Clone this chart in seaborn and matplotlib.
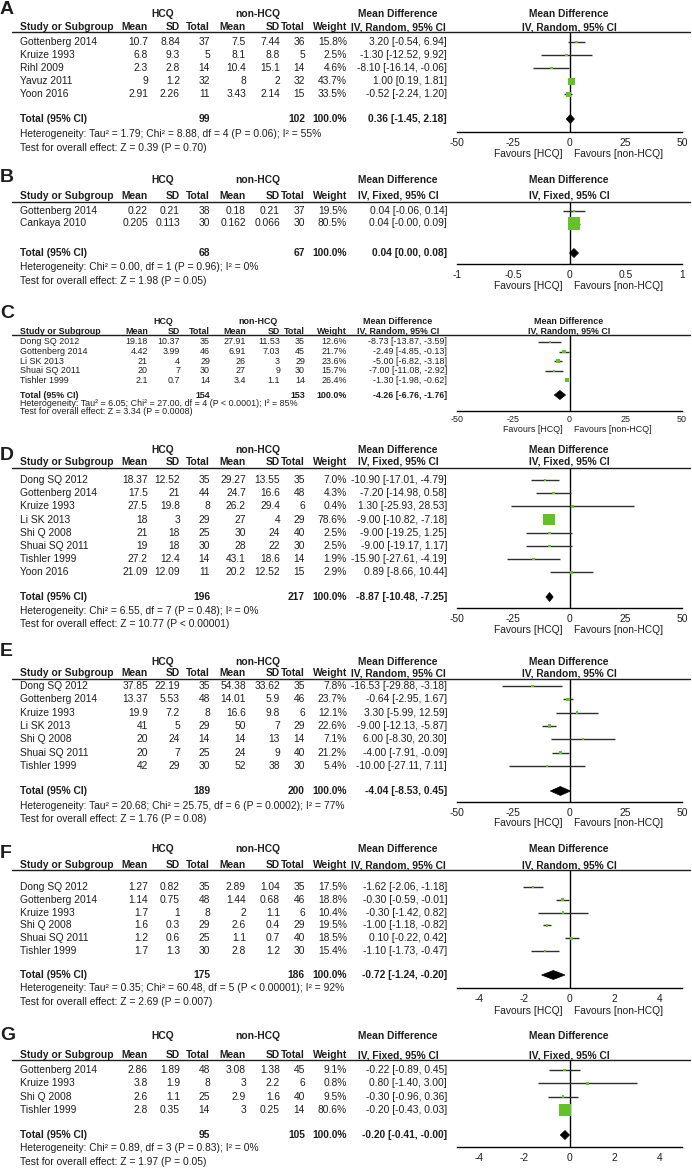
"""Forest plots (A-G): HCQ vs non-HCQ mean differences, redrawn with seaborn."""
import matplotlib.pyplot as plt
from matplotlib.lines import Line2D
import numpy as np
import pandas as pd
import seaborn as sns

# ---------------- data ----------------
# A
a_studies = ['Gottenberg 2014', 'Kruize 1993', 'Rihl 2009', 'Yavuz 2011', 'Yoon 2016']
a_hcq_mean = [10.7, 6.8, 2.3, 9, 2.91]
a_hcq_sd = [8.84, 9.3, 2.8, 1.2, 2.26]
a_hcq_n = [37, 5, 14, 32, 11]
a_ctl_mean = [7.5, 8.1, 10.4, 8, 3.43]
a_ctl_sd = [7.44, 8.8, 15.1, 2, 2.14]
a_ctl_n = [36, 5, 14, 32, 15]
a_weight = [15.8, 2.5, 4.6, 43.7, 33.5]
a_md = [3.20, -1.30, -8.10, 1.00, -0.52]
a_lo = [-0.54, -12.52, -16.14, 0.19, -2.24]
a_hi = [6.94, 9.92, -0.06, 1.81, 1.20]
a_total_n = [99, 102]
a_total_ci = [0.36, -1.45, 2.18]
a_het = 'Heterogeneity: Tau² = 1.79; Chi² = 8.88, df = 4 (P = 0.06); I² = 55%'
a_test = 'Test for overall effect: Z = 0.39 (P = 0.70)'
a_ticks = [-50, -25, 0, 25, 50]

# B
b_studies = ['Gottenberg 2014', 'Cankaya 2010']
b_hcq_mean = [0.22, 0.205]
b_hcq_sd = [0.21, 0.113]
b_hcq_n = [38, 30]
b_ctl_mean = [0.18, 0.162]
b_ctl_sd = [0.21, 0.066]
b_ctl_n = [37, 30]
b_weight = [19.5, 80.5]
b_md = [0.04, 0.04]
b_lo = [-0.06, -0.0]
b_hi = [0.14, 0.09]
b_total_n = [68, 67]
b_total_ci = [0.04, 0.00, 0.08]
b_het = 'Heterogeneity: Chi² = 0.00, df = 1 (P = 0.96); I² = 0%'
b_test = 'Test for overall effect: Z = 1.98 (P = 0.05)'
b_ticks = [-1, -0.5, 0, 0.5, 1]

# C
c_studies = ['Dong SQ 2012', 'Gottenberg 2014', 'Li SK 2013', 'Shuai SQ 2011', 'Tishler 1999']
c_hcq_mean = [19.18, 4.42, 21, 20, 2.1]
c_hcq_sd = [10.37, 3.99, 4, 7, 0.7]
c_hcq_n = [35, 46, 29, 30, 14]
c_ctl_mean = [27.91, 6.91, 26, 27, 3.4]
c_ctl_sd = [11.53, 7.03, 3, 9, 1.1]
c_ctl_n = [35, 45, 29, 30, 14]
c_weight = [12.6, 21.7, 23.6, 15.7, 26.4]
c_md = [-8.73, -2.49, -5.00, -7.00, -1.30]
c_lo = [-13.87, -4.85, -6.82, -11.08, -1.98]
c_hi = [-3.59, -0.13, -3.18, -2.92, -0.62]
c_total_n = [154, 153]
c_total_ci = [-4.26, -6.76, -1.76]
c_het = 'Heterogeneity: Tau² = 6.05; Chi² = 27.00, df = 4 (P < 0.0001); I² = 85%'
c_test = 'Test for overall effect: Z = 3.34 (P = 0.0008)'
c_ticks = [-50, -25, 0, 25, 50]

# D
d_studies = ['Dong SQ 2012', 'Gottenberg 2014', 'Kruize 1993', 'Li SK 2013',
             'Shi Q 2008', 'Shuai SQ 2011', 'Tishler 1999', 'Yoon 2016']
d_hcq_mean = [18.37, 17.5, 27.5, 18, 21, 19, 27.2, 21.09]
d_hcq_sd = [12.52, 21, 19.8, 3, 18, 18, 12.4, 12.09]
d_hcq_n = [35, 44, 8, 29, 25, 30, 14, 11]
d_ctl_mean = [29.27, 24.7, 26.2, 27, 30, 28, 43.1, 20.2]
d_ctl_sd = [13.55, 16.6, 29.4, 4, 24, 22, 18.6, 12.52]
d_ctl_n = [35, 48, 6, 29, 40, 30, 14, 15]
d_weight = [7.0, 4.3, 0.4, 78.6, 2.5, 2.5, 1.9, 2.9]
d_md = [-10.90, -7.20, 1.30, -9.00, -9.00, -9.00, -15.90, 0.89]
d_lo = [-17.01, -14.98, -25.93, -10.82, -19.25, -19.17, -27.61, -8.66]
d_hi = [-4.79, 0.58, 28.53, -7.18, 1.25, 1.17, -4.19, 10.44]
d_total_n = [196, 217]
d_total_ci = [-8.87, -10.48, -7.25]
d_het = 'Heterogeneity: Chi² = 6.55, df = 7 (P = 0.48); I² = 0%'
d_test = 'Test for overall effect: Z = 10.77 (P < 0.00001)'
d_ticks = [-50, -25, 0, 25, 50]

# E
e_studies = ['Dong SQ 2012', 'Gottenberg 2014', 'Kruize 1993', 'Li SK 2013',
             'Shi Q 2008', 'Shuai SQ 2011', 'Tishler 1999']
e_hcq_mean = [37.85, 13.37, 19.9, 41, 20, 20, 42]
e_hcq_sd = [22.19, 5.53, 7.2, 5, 24, 7, 29]
e_hcq_n = [35, 48, 8, 29, 14, 25, 30]
e_ctl_mean = [54.38, 14.01, 16.6, 50, 14, 24, 52]
e_ctl_sd = [33.62, 5.9, 9.8, 7, 13, 9, 38]
e_ctl_n = [35, 46, 6, 29, 14, 40, 30]
e_weight = [7.8, 23.7, 12.1, 22.6, 7.1, 21.2, 5.4]
e_md = [-16.53, -0.64, 3.30, -9.00, 6.00, -4.00, -10.00]
e_lo = [-29.88, -2.95, -5.99, -12.13, -8.30, -7.91, -27.11]
e_hi = [-3.18, 1.67, 12.59, -5.87, 20.30, -0.09, 7.11]
e_total_n = [189, 200]
e_total_ci = [-4.04, -8.53, 0.45]
e_het = 'Heterogeneity: Tau² = 20.68; Chi² = 25.75, df = 6 (P = 0.0002); I² = 77%'
e_test = 'Test for overall effect: Z = 1.76 (P = 0.08)'
e_ticks = [-50, -25, 0, 25, 50]

# F
f_studies = ['Dong SQ 2012', 'Gottenberg 2014', 'Kruize 1993', 'Shi Q 2008',
             'Shuai SQ 2011', 'Tishler 1999']
f_hcq_mean = [1.27, 1.14, 1.7, 1.6, 1.2, 1.7]
f_hcq_sd = [0.82, 0.75, 1, 0.3, 0.6, 1.3]
f_hcq_n = [35, 48, 8, 29, 25, 30]
f_ctl_mean = [2.89, 1.44, 2, 2.6, 1.1, 2.8]
f_ctl_sd = [1.04, 0.68, 1.1, 0.4, 0.7, 1.2]
f_ctl_n = [35, 46, 6, 29, 40, 30]
f_weight = [17.5, 18.8, 10.4, 19.5, 18.5, 15.4]
f_md = [-1.62, -0.30, -0.30, -1.00, 0.10, -1.10]
f_lo = [-2.06, -0.59, -1.42, -1.18, -0.22, -1.73]
f_hi = [-1.18, -0.01, 0.82, -0.82, 0.42, -0.47]
f_total_n = [175, 186]
f_total_ci = [-0.72, -1.24, -0.20]
f_het = 'Heterogeneity: Tau² = 0.35; Chi² = 60.48, df = 5 (P < 0.00001); I² = 92%'
f_test = 'Test for overall effect: Z = 2.69 (P = 0.007)'
f_ticks = [-4, -2, 0, 2, 4]

# G
g_studies = ['Gottenberg 2014', 'Kruize 1993', 'Shi Q 2008', 'Tishler 1999']
g_hcq_mean = [2.86, 3.8, 2.6, 2.8]
g_hcq_sd = [1.89, 1.9, 1.1, 0.35]
g_hcq_n = [48, 8, 25, 14]
g_ctl_mean = [3.08, 3, 2.9, 3]
g_ctl_sd = [1.38, 2.2, 1.6, 0.25]
g_ctl_n = [45, 6, 40, 14]
g_weight = [9.1, 0.8, 9.5, 80.6]
g_md = [-0.22, 0.80, -0.30, -0.20]
g_lo = [-0.89, -1.40, -0.96, -0.43]
g_hi = [0.45, 3.00, 0.36, 0.03]
g_total_n = [95, 105]
g_total_ci = [-0.20, -0.41, -0.0]
g_het = 'Heterogeneity: Chi² = 0.89, df = 3 (P = 0.83); I² = 0%'
g_test = 'Test for overall effect: Z = 1.97 (P = 0.05)'
g_ticks = [-4, -2, 0, 2, 4]

# ---------------- style / layout ----------------
sns.set_style('white')
plt.rcParams['font.family'] = ['Liberation Sans', 'DejaVu Sans']
plt.rcParams['axes.unicode_minus'] = False

W, H = 692, 1176
INK = '#1e1e1e'
GREEN = '#66c02e'
FS = 7.4
COLS = [148, 180, 210, 246, 280, 305, 347]   # right edges of table columns (px)
PX0, PX1 = 457, 682                           # forest plot x extent (px)
CI_X = 447

# pixel rows for each panel (letter, group header, column header, rule, first row, step, total, het, test, axis, ticks, favours)
layouts = {
    'A': dict(letter=10, group=14, head=27, line=32, y0=42, dy=13.1, total=119, het=134, test=148, axis=132, fav=154, lim=50, model='Random', fs=FS),
    'B': dict(letter=177, group=180, head=196, line=202, y0=211, dy=12.5, total=253, het=267, test=281, axis=264, fav=286, lim=1, model='Fixed', fs=FS),
    'C': dict(letter=314, group=321, head=331, line=335, y0=342, dy=9.6, total=395, het=403, test=411, axis=411, fav=430, lim=50, model='Random', fs=6.4),
    'D': dict(letter=456, group=450, head=462, line=468, y0=480, dy=13.2, total=597, het=611, test=624, axis=608, fav=630, lim=50, model='Fixed', fs=FS),
    'E': dict(letter=652, group=662, head=673, line=679, y0=686, dy=13.3, total=791, het=806, test=819, axis=802, fav=823, lim=50, model='Random', fs=FS),
    'F': dict(letter=854, group=849, head=865, line=870, y0=887, dy=12.8, total=975, het=988, test=1002, axis=988, fav=1011, lim=5, model='Random', fs=FS),
    'G': dict(letter=1035, group=1036, head=1055, line=1060, y0=1070, dy=13.3, total=1135, het=1148, test=1162, axis=1147, fav=None, lim=5, model='Fixed', fs=FS),
}

fig = plt.figure(figsize=(W / 100, H / 100), dpi=100)


def fx(px):
    return px / W


def fy(py):
    return 1 - py / H


def txt(x, y, s, ha='left', bold=False, size=FS):
    fig.text(fx(x), fy(y), s, ha=ha, va='center', fontsize=size,
             fontweight='bold' if bold else 'normal', color=INK)


def fmt_ci(m, l, h):
    return f'{m:.2f} [{l:.2f}, {h:.2f}]'


def draw_panel(letter, studies, hm, hs, hn, cm, cs, cn, wt, md, lo, hi,
               tot_n, tot_ci, het, test, ticks):
    L = layouts[letter]
    fs = L['fs']
    y0, dy = L['y0'], L['dy']
    n = len(studies)

    # headers
    txt(0, L['letter'], letter, bold=True, size=14)
    txt(163, L['group'], 'HCQ', ha='center', bold=True, size=fs)
    txt(258, L['group'], 'non-HCQ', ha='center', bold=True, size=fs)
    txt(398, L['group'], 'Mean Difference', ha='center', bold=True, size=fs)
    txt(569, L['group'], 'Mean Difference', ha='center', bold=True, size=fs)
    txt(20, L['head'], 'Study or Subgroup', bold=True, size=fs)
    for x, s in zip(COLS, ['Mean', 'SD', 'Total', 'Mean', 'SD', 'Total', 'Weight']):
        txt(x, L['head'], s, ha='right', bold=True, size=fs)
    model = f"IV, {L['model']}, 95% CI"
    txt(398, L['head'], model, ha='center', bold=True, size=fs)
    txt(569, L['head'], model, ha='center', bold=True, size=fs)
    fig.add_artist(Line2D([fx(12), fx(690)], [fy(L['line'])] * 2, color=INK, lw=1))

    # study rows
    for i in range(n):
        y = y0 + i * dy
        vals = [f'{hm[i]:g}', f'{hs[i]:g}', f'{hn[i]}', f'{cm[i]:g}', f'{cs[i]:g}',
                f'{cn[i]}', f'{wt[i]:.1f}%']
        txt(20, y, studies[i], size=fs)
        for x, s in zip(COLS, vals):
            txt(x, y, s, ha='right', size=fs)
        txt(CI_X, y, fmt_ci(md[i], lo[i], hi[i]), ha='right', size=fs)

    # total + footnotes
    ty = L['total']
    txt(20, ty, 'Total (95% CI)', bold=True, size=fs)
    txt(COLS[2], ty, f'{tot_n[0]}', ha='right', bold=True, size=fs)
    txt(COLS[5], ty, f'{tot_n[1]}', ha='right', bold=True, size=fs)
    txt(COLS[6], ty, '100.0%', ha='right', bold=True, size=fs)
    txt(CI_X, ty, fmt_ci(*tot_ci), ha='right', bold=True, size=fs)
    txt(20, L['het'], het, size=fs)
    txt(20, L['test'], test, size=fs)

    # forest plot
    ax = fig.add_axes([fx(PX0), fy(L['axis']), (PX1 - PX0) / W, (L['axis'] - L['line']) / H])
    ax.patch.set_alpha(0)
    df = pd.DataFrame({'row': np.arange(n), 'md': md, 'lo': lo, 'hi': hi, 'wt': wt})
    ax.hlines(df['row'], df['lo'], df['hi'], color='#2e2e2e', lw=1, zorder=2)
    sizes = {w: (max(2.5, 0.15 * w) * 0.72) ** 2 for w in wt}
    sns.scatterplot(data=df, x='md', y='row', size='wt', sizes=sizes, marker='s',
                    color=GREEN, linewidth=0, legend=False, ax=ax, zorder=3)
    t_row = (ty - y0) / dy
    h = 4.5 / dy
    m, l, r = tot_ci
    ax.fill([l, m, r, m], [t_row, t_row - h, t_row, t_row + h], color='black', zorder=4, lw=0.5)
    ax.axvline(0, color='black', lw=1, zorder=1)

    lim = L['lim']
    ax.set_xlim(-lim, lim)
    ax.set_ylim((L['axis'] - y0) / dy, (L['line'] - y0) / dy)
    ax.set_xticks(ticks)
    ax.set_xticklabels([f'{t:g}' for t in ticks])
    ax.set_yticks([])
    ax.set_xlabel('')
    ax.set_ylabel('')
    for s in ['top', 'left', 'right']:
        ax.spines[s].set_visible(False)
    ax.spines['bottom'].set_color('black')
    ax.spines['bottom'].set_linewidth(1)
    ax.tick_params(axis='x', direction='inout', length=6, width=1,
                   pad=0 if fs < FS else 1, labelsize=fs, colors=INK)

    if L['fav'] is not None:
        txt(563, L['fav'], 'Favours [HCQ]', ha='right', size=fs)
        txt(574, L['fav'], 'Favours [non-HCQ]', size=fs)


draw_panel('A', a_studies, a_hcq_mean, a_hcq_sd, a_hcq_n, a_ctl_mean, a_ctl_sd, a_ctl_n,
           a_weight, a_md, a_lo, a_hi, a_total_n, a_total_ci, a_het, a_test, a_ticks)
draw_panel('B', b_studies, b_hcq_mean, b_hcq_sd, b_hcq_n, b_ctl_mean, b_ctl_sd, b_ctl_n,
           b_weight, b_md, b_lo, b_hi, b_total_n, b_total_ci, b_het, b_test, b_ticks)
draw_panel('C', c_studies, c_hcq_mean, c_hcq_sd, c_hcq_n, c_ctl_mean, c_ctl_sd, c_ctl_n,
           c_weight, c_md, c_lo, c_hi, c_total_n, c_total_ci, c_het, c_test, c_ticks)
draw_panel('D', d_studies, d_hcq_mean, d_hcq_sd, d_hcq_n, d_ctl_mean, d_ctl_sd, d_ctl_n,
           d_weight, d_md, d_lo, d_hi, d_total_n, d_total_ci, d_het, d_test, d_ticks)
draw_panel('E', e_studies, e_hcq_mean, e_hcq_sd, e_hcq_n, e_ctl_mean, e_ctl_sd, e_ctl_n,
           e_weight, e_md, e_lo, e_hi, e_total_n, e_total_ci, e_het, e_test, e_ticks)
draw_panel('F', f_studies, f_hcq_mean, f_hcq_sd, f_hcq_n, f_ctl_mean, f_ctl_sd, f_ctl_n,
           f_weight, f_md, f_lo, f_hi, f_total_n, f_total_ci, f_het, f_test, f_ticks)
draw_panel('G', g_studies, g_hcq_mean, g_hcq_sd, g_hcq_n, g_ctl_mean, g_ctl_sd, g_ctl_n,
           g_weight, g_md, g_lo, g_hi, g_total_n, g_total_ci, g_het, g_test, g_ticks)

fig.savefig('out.png', dpi=100, facecolor='white')
